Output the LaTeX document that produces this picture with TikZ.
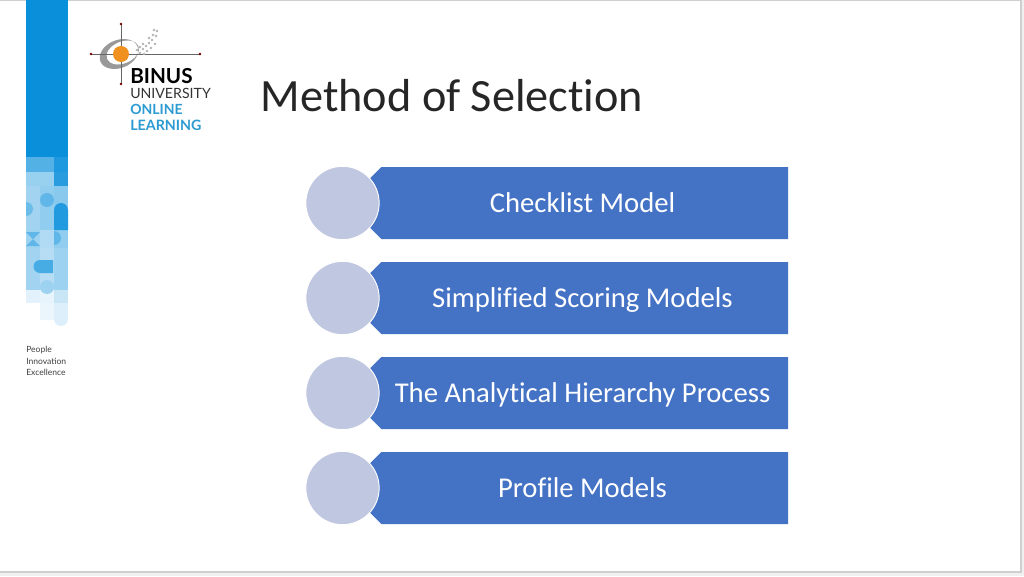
\documentclass[tikz,border=0pt]{standalone}
\usepackage{fontspec}
\setmainfont[Ligatures=NoCommon]{Carlito}
\newfontfamily\logofont{Lato}
\usepackage{tikz}
\usetikzlibrary{positioning}
\pgfdeclarelayer{background}
\pgfsetlayers{background,main}
\definecolor{barblue}{HTML}{4472C4}
\definecolor{discblue}{HTML}{C0C7E0}
\definecolor{stripeblue}{HTML}{0A8FDB}
\definecolor{logoblue}{HTML}{2D9BD2}
\definecolor{logoorange}{HTML}{F0901E}
\definecolor{frameline}{HTML}{CFCFCF}
\definecolor{outerback}{HTML}{F0F0F0}
\tikzstyle{bardata} = [rectangle, minimum width=315pt, minimum height=54pt, inner sep=0pt, outer sep=0pt]
\tikzstyle{bartext} = [text=white, font=\fontsize{21.5}{26}\selectfont, inner sep=0pt, text height=17pt, text depth=2.5pt]
\tikzstyle{disc} = [circle, fill=discblue, draw=white, line width=0.7pt, minimum size=55pt, inner sep=0pt]
\tikzstyle{logotext} = [anchor=west, inner sep=0pt, font=\logofont]
\tikzstyle{sidetext} = [anchor=west, inner sep=0pt, text=black!75, font=\logofont\fontsize{6.4}{7}\selectfont]
\tikzstyle{crossline} = [draw, black!60, line width=0.5pt]
\newcommand{\disc}[1]{node (c#1) [disc] {}}
\newcommand{\bardata}[1]{node (b#1) [bardata] {}}
\newcommand{\bartext}[2]{node (t#1) [bartext] {#2}}
\newcommand{\barfill}[1]{\begin{pgfonlayer}{background}
  \fill[barblue] ([xshift=10]b#1.north west) -- (b#1.north east) -- (b#1.south east) -- ([xshift=10]b#1.south west) -- ([yshift=10]b#1.south west) -- ([yshift=-10]b#1.north west) -- cycle;
\end{pgfonlayer}}
\begin{document}
\begin{tikzpicture}[x=0.75pt,y=0.75pt]
\useasboundingbox (0,0) rectangle (1024,576);
% slide frame
\begin{pgfonlayer}{background}
\fill[outerback] (0,0) rectangle (1024,576);
\fill[white,draw=frameline,line width=0.8pt] (-2,4) rectangle (1021,575.5);
\end{pgfonlayer}
% side stripe
\fill[stripeblue] (26,419) rectangle (68,576);
\foreach \xa/\ya/\xb/\yb/\shade in {26/419/54/404/30,54/419/68/404/8,26/404/54/390/58,54/404/68/390/12,
  26/390/40/346/62,40/390/54/346/55,54/390/68/366/52,54/366/68/346/8,
  26/346/40/328/60,40/346/54/328/68,54/346/68/328/55,
  26/328/40/286/62,40/328/54/286/70,54/328/68/286/60,
  26/286/40/273/88,40/286/54/273/90,54/286/68/273/78,
  40/273/54/256/92,54/273/68/256/86}{
  \fill[white] (\xa,\ya) rectangle (\xb,\yb);
  \fill[stripeblue!\the\numexpr100-\shade\relax!white] (\xa,\ya) rectangle (\xb,\yb);
}
\fill[stripeblue!60!white] (26,360) arc (-90:90:7) -- cycle;
\fill[stripeblue!65!white] (47,376) circle (7);
\fill[stripeblue!90!white] (54,366) arc (180:0:7) -- (68,346) -- (54,346) -- cycle;
\fill[stripeblue!65!white] (26,344) -- (40,344) -- (33,337) -- (40,330) -- (26,330) -- (33,337) -- cycle;
\fill[stripeblue!65!white] (54,345) arc (90:-90:7) -- cycle;
\fill[stripeblue!75!white] (40,316) -- (53,316) -- (53,303) -- (40,303) arc (270:90:6.5) -- cycle;
\fill[stripeblue!40!white] (47,289) circle (7);
\fill[stripeblue!14!white] (61,257) circle (7);
\node[sidetext] (people) at (26,226) {People};
\node[sidetext] (innovation) at (26,215) {Innovation};
\node[sidetext] (excellence) at (26,204) {Excellence};
% logo
\coordinate (crossw) at (91,522);
\coordinate (crosse) at (200,522);
\coordinate (crossn) at (121,552);
\coordinate (crosss) at (121,492);
\fill[black!40,even odd rule,rotate around={22:(119,522)}] (119,522) ellipse (20 and 14) (123,522) ellipse (17 and 11);
\path[crossline] (crossw) -- (crosse);
\path[crossline] (crossn) -- (crosss);
\foreach \p in {crossw,crosse,crossn,crosss} \fill[red!45!black] (\p) circle (1.3);
\fill[logoorange] (121,522) circle (8);
\foreach \dx/\dy in {137/526,140/529,143/527,146/530,149/533,143/532,147/525,151/528,152/536,155/532,156/540,153/541,149/538,140/523,144/522,157/545,154/546}
  \fill[black!30] (\dx,\dy) circle (1.4);
\node[logotext,font=\logofont\bfseries\fontsize{15.5}{16}\selectfont] (binus) at (130,500) {BINUS};
\node[logotext,font=\logofont\fontsize{10.6}{11}\selectfont,text=black!80] (university) at (130,483) {UNIVERSITY};
\node[logotext,font=\logofont\bfseries\fontsize{10.5}{11}\selectfont,text=logoblue] (online) at (130,467) {ONLINE};
\node[logotext,font=\logofont\bfseries\fontsize{10.7}{11}\selectfont,text=logoblue] (learning) at (130,451) {LEARNING};
% title
\node[anchor=west,inner sep=0pt,text=black!85,font=\fontsize{34.7}{40}\selectfont] (title) at (260.5,480) {Method of Selection};
% list
\path (342.5,373) \disc{1};
\path (c1)+(0,-95) \disc{2};
\path (c2)+(0,-95) \disc{3};
\path (c3)+(0,-95) \disc{4};
\path (c1)+(235.5,0) \bardata{1};
\path (c2)+(235.5,0) \bardata{2};
\path (c3)+(235.5,0) \bardata{3};
\path (c4)+(235.5,0) \bardata{4};
\barfill{1}
\barfill{2}
\barfill{3}
\barfill{4}
\path (c1)+(240,0) \bartext{1}{Checklist Model};
\path (c2)+(240,0) \bartext{2}{Simplified Scoring Models};
\path (c3)+(240,0) \bartext{3}{The Analytical Hierarchy Process};
\path (c4)+(240,0) \bartext{4}{Profile Models};
\end{tikzpicture}
\end{document}
